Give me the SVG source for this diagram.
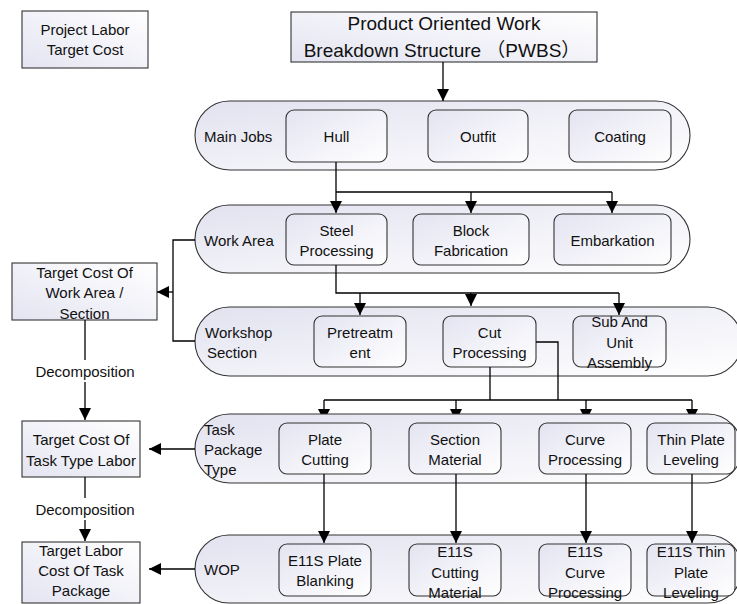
<svg xmlns="http://www.w3.org/2000/svg" width="737" height="604" viewBox="0 0 737 604">
  <style>
    text { font-family: "Liberation Sans", "Noto Sans CJK SC", Arial, sans-serif; font-size: 15px; fill: #111; text-anchor: middle; dominant-baseline: central; }
    text.lbl { text-anchor: start; }
    text.big { font-size: 19px; }
    .lane { fill: url(#laneFill); stroke: #333; stroke-width: 1.1; }
    .item { fill: url(#itemFill); stroke: #333; stroke-width: 1.1; }
    .cost { fill: url(#costFill); stroke: #333; stroke-width: 1.1; }
    .wire { fill: none; stroke: #000; stroke-width: 1.3; }
    .arrow { fill: none; stroke: #000; stroke-width: 1.3; marker-end: url(#ah); }
  </style>
  <defs>
    <linearGradient id="laneFill" x1="0" y1="0" x2="1" y2="1">
      <stop offset="0" stop-color="#e2e2f0"/>
      <stop offset="1" stop-color="#ffffff"/>
    </linearGradient>
    <linearGradient id="itemFill" x1="0" y1="0" x2="1" y2="1">
      <stop offset="0" stop-color="#e4e4f2"/>
      <stop offset="1" stop-color="#ffffff"/>
    </linearGradient>
    <linearGradient id="costFill" x1="1" y1="0" x2="0" y2="1">
      <stop offset="0" stop-color="#ffffff"/>
      <stop offset="1" stop-color="#e4e4f2"/>
    </linearGradient>
    <marker id="ah" viewBox="0 0 12 12" refX="12" refY="6" markerWidth="12" markerHeight="12" orient="auto" markerUnits="userSpaceOnUse">
      <path d="M0,0 L12,6 L0,12 z" fill="#000"/>
    </marker>
  </defs>

  <!-- arrows into the task package lane run beneath that lane -->
  <g id="connectors-under">
    <path class="wire" d="M324,400 H692"/>
    <path class="arrow" d="M324,400 V421"/>
    <path class="arrow" d="M456,400 V421"/>
    <path class="arrow" d="M586,400 V421"/>
    <path class="arrow" d="M692,400 V421"/>
  </g>

  <!-- cost boxes on the left -->
  <g id="project-labor-cost">
    <rect class="cost" x="22" y="11" width="126" height="57"/>
    <text x="85" y="29">Project Labor</text>
    <text x="85" y="49">Target Cost</text>
  </g>
  <g id="cost-work-area">
    <rect class="cost" x="12" y="263" width="145" height="57"/>
    <text x="84.5" y="272">Target Cost Of</text>
    <text x="84.5" y="292">Work Area /</text>
    <text x="84.5" y="313">Section</text>
  </g>
  <g id="cost-task-type">
    <rect class="cost" x="22" y="421" width="118" height="56"/>
    <text x="81" y="439">Target Cost Of</text>
    <text x="81" y="460">Task Type Labor</text>
  </g>
  <g id="cost-task-package">
    <rect class="cost" x="22" y="542" width="118" height="61"/>
    <text x="81" y="550">Target Labor</text>
    <text x="81" y="570">Cost Of Task</text>
    <text x="81" y="590">Package</text>
  </g>

  <!-- PWBS header -->
  <g id="pwbs">
    <rect class="cost" x="291" y="12" width="306" height="50"/>
    <text class="big" x="444" y="23">Product Oriented Work</text>
    <text class="big" x="442" y="50">Breakdown Structure （PWBS）</text>
  </g>

  <!-- lane: main jobs -->
  <g id="lane-main-jobs">
    <rect class="lane" x="195" y="101" width="495" height="69" rx="34.5" ry="34.5"/>
    <text class="lbl" x="204" y="136">Main Jobs</text>
  </g>
  <g id="hull">
    <rect class="item" x="286" y="110" width="101" height="52" rx="8"/>
    <text x="336.5" y="136">Hull</text>
  </g>
  <g id="outfit">
    <rect class="item" x="428" y="110" width="100" height="52" rx="8"/>
    <text x="478" y="136">Outfit</text>
  </g>
  <g id="coating">
    <rect class="item" x="569" y="110" width="102" height="52" rx="8"/>
    <text x="620" y="136">Coating</text>
  </g>

  <!-- lane: work area -->
  <g id="lane-work-area">
    <rect class="lane" x="195" y="205" width="495" height="68" rx="34" ry="34"/>
    <text class="lbl" x="204" y="240">Work Area</text>
  </g>
  <g id="steel-processing">
    <rect class="item" x="286" y="214" width="101" height="51" rx="8"/>
    <text x="336.5" y="230">Steel</text>
    <text x="336.5" y="250">Processing</text>
  </g>
  <g id="block-fabrication">
    <rect class="item" x="413" y="214" width="116" height="51" rx="8"/>
    <text x="471" y="230">Block</text>
    <text x="471" y="250">Fabrication</text>
  </g>
  <g id="embarkation">
    <rect class="item" x="554" y="214" width="117" height="51" rx="8"/>
    <text x="612.5" y="240">Embarkation</text>
  </g>

  <!-- lane: workshop section -->
  <g id="lane-workshop-section">
    <rect class="lane" x="195" y="307" width="547" height="69" rx="34.5" ry="34.5"/>
    <text class="lbl" x="205" y="332">Workshop</text>
    <text class="lbl" x="207" y="352">Section</text>
  </g>
  <g id="pretreatment">
    <rect class="item" x="314" y="316" width="92" height="51" rx="8"/>
    <text x="360" y="332">Pretreatm</text>
    <text x="360" y="352">ent</text>
  </g>
  <g id="cut-processing">
    <rect class="item" x="443" y="316" width="93" height="51" rx="8"/>
    <text x="489.5" y="332">Cut</text>
    <text x="489.5" y="352">Processing</text>
  </g>
  <g id="sub-unit-assembly">
    <rect class="item" x="573" y="316" width="93" height="51" rx="8"/>
    <text x="619.5" y="321">Sub And</text>
    <text x="619.5" y="342">Unit</text>
    <text x="619.5" y="362">Assembly</text>
  </g>

  <!-- lane: task package type -->
  <g id="lane-task-package-type">
    <rect class="lane" x="195" y="414" width="547" height="69" rx="34.5" ry="34.5"/>
    <text class="lbl" x="204" y="429">Task</text>
    <text class="lbl" x="204" y="449">Package</text>
    <text class="lbl" x="204" y="469">Type</text>
  </g>
  <g id="plate-cutting">
    <rect class="item" x="279" y="423" width="92" height="51" rx="8"/>
    <text x="325" y="439">Plate</text>
    <text x="325" y="459">Cutting</text>
  </g>
  <g id="section-material">
    <rect class="item" x="409" y="423" width="92" height="51" rx="8"/>
    <text x="455" y="439">Section</text>
    <text x="455" y="459">Material</text>
  </g>
  <g id="curve-processing">
    <rect class="item" x="539" y="423" width="92" height="51" rx="8"/>
    <text x="585" y="439">Curve</text>
    <text x="585" y="459">Processing</text>
  </g>
  <g id="thin-plate-leveling">
    <rect class="item" x="647" y="423" width="88" height="51" rx="8"/>
    <text x="691" y="439">Thin Plate</text>
    <text x="691" y="459">Leveling</text>
  </g>

  <!-- lane: WOP -->
  <g id="lane-wop">
    <rect class="lane" x="195" y="535" width="547" height="68" rx="34" ry="34"/>
    <text class="lbl" x="204" y="569">WOP</text>
  </g>
  <g id="e11s-plate-blanking">
    <rect class="item" x="279" y="544" width="92" height="52" rx="8"/>
    <text x="325" y="560">E11S Plate</text>
    <text x="325" y="580">Blanking</text>
  </g>
  <g id="e11s-cutting-material">
    <rect class="item" x="409" y="544" width="92" height="52" rx="8"/>
    <text x="455" y="551">E11S</text>
    <text x="455" y="572">Cutting</text>
    <text x="455" y="592">Material</text>
  </g>
  <g id="e11s-curve-processing">
    <rect class="item" x="539" y="544" width="92" height="52" rx="8"/>
    <text x="585" y="551">E11S</text>
    <text x="585" y="572">Curve</text>
    <text x="585" y="592">Processing</text>
  </g>
  <g id="e11s-thin-plate-leveling">
    <rect class="item" x="647" y="544" width="88" height="52" rx="8"/>
    <text x="691" y="551">E11S Thin</text>
    <text x="691" y="572">Plate</text>
    <text x="691" y="592">Leveling</text>
  </g>

  <!-- decomposition labels -->
  <g id="decomposition-1">
    <text x="85" y="371">Decomposition</text>
  </g>
  <g id="decomposition-2">
    <text x="85" y="509">Decomposition</text>
  </g>

  <g id="connectors">
    <!-- PWBS to main jobs -->
    <path class="arrow" d="M443,62 V101"/>
    <!-- hull to work areas -->
    <path class="arrow" d="M336,162 V213"/>
    <path class="wire" d="M336,192 H612"/>
    <path class="arrow" d="M471,192 V213"/>
    <path class="arrow" d="M612,192 V213"/>
    <!-- steel processing to workshop sections -->
    <path class="wire" d="M336,265 V293 H619"/>
    <path class="arrow" d="M360,293 V315"/>
    <path class="arrow" d="M471,293 V306"/>
    <path class="arrow" d="M619,293 V315"/>
    <!-- cut processing to task package types -->
    <path class="wire" d="M490,367 V400"/>
    <path class="wire" d="M536,342 H558 V400"/>
    <!-- task package types to WOP -->
    <path class="arrow" d="M324,474 V543"/>
    <path class="arrow" d="M456,474 V543"/>
    <path class="arrow" d="M586,474 V543"/>
    <path class="arrow" d="M692,474 V543"/>
    <!-- lanes to cost boxes -->
    <path class="wire" d="M195,240 H173 V341 H195"/>
    <path class="arrow" d="M173,292 H157"/>
    <path class="arrow" d="M195,449 H149"/>
    <path class="arrow" d="M195,569 H149"/>
    <!-- decomposition chain -->
    <path class="wire" d="M85,320 V360"/>
    <path class="arrow" d="M85,382 V420"/>
    <path class="wire" d="M85,477 V498"/>
    <path class="arrow" d="M85,520 V541"/>
  </g>
</svg>
